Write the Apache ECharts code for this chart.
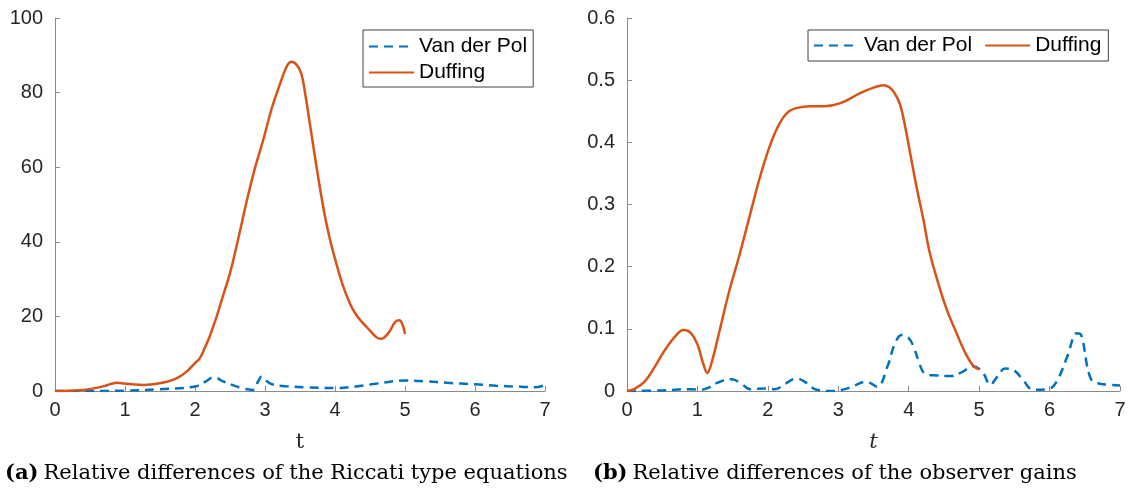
<!DOCTYPE html>
<html><head><meta charset="utf-8">
<script src="https://cdn.jsdelivr.net/npm/echarts@6/dist/echarts.min.js"></script>
<style>html,body{margin:0;padding:0;background:#fff}#c{width:1130px;height:495px}</style>
</head><body><div id="c"></div>
<script>
// Panel (a): Riccati type equations
const tA_vdp = [0,0.5,1.0,1.5,2.0,2.15,2.27,2.4,2.55,2.7,2.82,2.9,2.95,3.0,3.1,3.3,3.6,4.0,4.3,4.6,5.0,5.3,5.6,6.0,6.3,6.6,6.85,7.0];
const vA_vdp = [0,0,0.1,0.5,1.2,2.5,3.7,2.6,1.5,0.6,0.3,2.5,3.9,3.0,1.8,1.3,1.0,0.8,1.2,2.0,2.8,2.6,2.2,1.8,1.4,1.2,1.0,1.6];
const tA_duf = [0,0.2,0.4,0.55,0.7,0.8,0.88,0.95,1.1,1.26,1.4,1.6,1.75,1.88,2.0,2.07,2.15,2.21,2.31,2.4,2.5,2.62,2.74,2.86,2.97,3.1,3.19,3.31,3.38,3.45,3.52,3.58,3.64,3.72,3.79,3.86,3.93,4.0,4.1,4.21,4.3,4.4,4.5,4.58,4.64,4.7,4.78,4.86,4.92,4.97,5.0];
const vA_duf = [0,0.05,0.3,0.7,1.3,1.9,2.2,2.1,1.8,1.6,1.8,2.5,3.5,5.2,7.5,8.8,12,14.6,20,25.5,31.6,41,51,60,67,76,81,87,88.3,87.5,85,79,71.8,62,53.9,46.5,40.5,35.5,29,23.6,20.5,18.2,16.2,14.6,14.0,14.3,16,18.5,19,17.5,15.3];
// Panel (b): observer gains
const tB_vdp = [0,0.5,0.9,1.04,1.15,1.3,1.49,1.62,1.75,1.98,2.1,2.25,2.41,2.55,2.69,2.93,3.15,3.4,3.55,3.7,3.8,3.9,4.0,4.07,4.15,4.23,4.4,4.59,4.75,4.92,5.05,5.16,5.25,5.37,5.5,5.62,5.77,5.98,6.1,6.25,6.39,6.45,6.58,6.7,6.86,7.0];
const vB_vdp = [0,0.001,0.003,0.002,0.005,0.014,0.019,0.012,0.003,0.004,0.003,0.012,0.020,0.013,0.002,0,0.005,0.015,0.007,0.04,0.075,0.09,0.085,0.071,0.045,0.028,0.025,0.024,0.03,0.040,0.03,0.010,0.022,0.036,0.033,0.018,0.002,0.003,0.015,0.055,0.093,0.09,0.021,0.012,0.010,0.009];
const tB_duf = [0,0.1,0.25,0.4,0.55,0.7,0.8,0.9,1.0,1.08,1.14,1.2,1.3,1.45,1.6,1.75,1.89,2.0,2.1,2.2,2.3,2.4,2.6,2.8,3.03,3.31,3.5,3.64,3.72,3.8,3.88,3.95,4.02,4.11,4.21,4.3,4.45,4.55,4.68,4.8,4.92,5.0];
const vB_duf = [0,0.003,0.015,0.04,0.068,0.09,0.098,0.094,0.075,0.045,0.029,0.045,0.09,0.16,0.22,0.285,0.345,0.385,0.415,0.437,0.45,0.455,0.458,0.458,0.463,0.479,0.488,0.492,0.489,0.479,0.46,0.425,0.383,0.329,0.275,0.222,0.162,0.128,0.093,0.062,0.04,0.035];
const xTicks = [0,1,2,3,4,5,6,7];
const yTicksA = [0,20,40,60,80,100];
const yTicksB = [0,0.1,0.2,0.3,0.4,0.5,0.6];
const seriesNames = ['Van der Pol','Duffing'];
const captionA = ['(a)','Relative differences of the Riccati type equations'];
const captionB = ['(b)','Relative differences of the observer gains'];

const zip = (t,v) => t.map((x,i)=>[x,v[i]]);
const BLUE = '#0072BD', ORANGE = '#D95319';
const AX = '#8a8a8a', TXT = '#262626';
const tickFont = {fontFamily:'Liberation Sans', fontSize:20, color:TXT};

function xAxis(gi, italic){
  return {type:'value', gridIndex:gi, min:xTicks[0], max:xTicks[xTicks.length-1], interval:1,
    axisLine:{show:true, onZero:false, lineStyle:{color:AX, width:1}},
    axisTick:{show:true, inside:true, length:5, lineStyle:{color:AX}},
    axisLabel:Object.assign({margin:9}, tickFont),
    splitLine:{show:false},
    name:'t', nameLocation:'middle', nameGap:41,
    nameTextStyle:{fontFamily:'DejaVu Serif', fontSize:21, color:TXT, fontStyle: italic?'italic':'normal'}};
}
function yAxis(gi, ticks, fmt){
  return {type:'value', gridIndex:gi, min:ticks[0], max:ticks[ticks.length-1], interval:ticks[1]-ticks[0],
    axisLine:{show:true, lineStyle:{color:AX, width:1}},
    axisTick:{show:true, inside:true, length:5, lineStyle:{color:AX}},
    axisLabel:Object.assign({margin:12, formatter:fmt}, tickFont),
    splitLine:{show:false}};
}
function line(name, xi, yi, data, color, dashed){
  return {type:'line', name, xAxisIndex:xi, yAxisIndex:yi, data, showSymbol:false, symbol:'none',
    smooth:0.4, animation:false,
    lineStyle:{color, width:2.5, type: dashed?[9,6]:'solid'}, itemStyle:{color}};
}
const legendText = {fontFamily:'Liberation Sans', fontSize:21, color:'#000'};
const legendCommon = {itemWidth:45, itemHeight:20, textStyle:legendText, borderColor:'#404040', borderWidth:1,
  backgroundColor:'#fff', selectedMode:false, itemStyle:{opacity:0}};
const rich = {b:{fontFamily:'DejaVu Serif', fontWeight:'bold', fontSize:21, color:'#000'},
              n:{fontFamily:'DejaVu Serif', fontWeight:'normal', fontSize:21, color:'#000'}};

const option = {
  animation:false,
  backgroundColor:'#fff',
  grid:[{left:55, top:18, width:490, height:373},
        {left:627, top:18, width:493, height:373}],
  xAxis:[xAxis(0,false), xAxis(1,true)],
  yAxis:[yAxis(0, yTicksA, v=>String(v)), yAxis(1, yTicksB, v=>v===0?'0':v.toFixed(1))],
  legend:[
    Object.assign({data:seriesNames, orient:'vertical', left:363, top:30, padding:[6,6,4,5], itemGap:5}, legendCommon),
    Object.assign({data:seriesNames, orient:'horizontal', left:808, top:30, padding:[5,7,5,5], itemGap:12}, legendCommon)
  ],
  title:[
    {text:'{b|'+captionA[0]+'} {n|'+captionA[1]+'}', left:5, top:463, padding:0, textStyle:{rich}},
    {text:'{b|'+captionB[0]+'} {n|'+captionB[1]+'}', left:593, top:463, padding:0, textStyle:{rich}}
  ],
  series:[
    line(seriesNames[0],0,0,zip(tA_vdp,vA_vdp),BLUE,true),
    line(seriesNames[1],0,0,zip(tA_duf,vA_duf),ORANGE,false),
    line(seriesNames[0],1,1,zip(tB_vdp,vB_vdp),BLUE,true),
    line(seriesNames[1],1,1,zip(tB_duf,vB_duf),ORANGE,false)
  ]
};
const chart = echarts.init(document.getElementById('c'), null, {renderer:'canvas'});
chart.setOption(option);
</script></body></html>
